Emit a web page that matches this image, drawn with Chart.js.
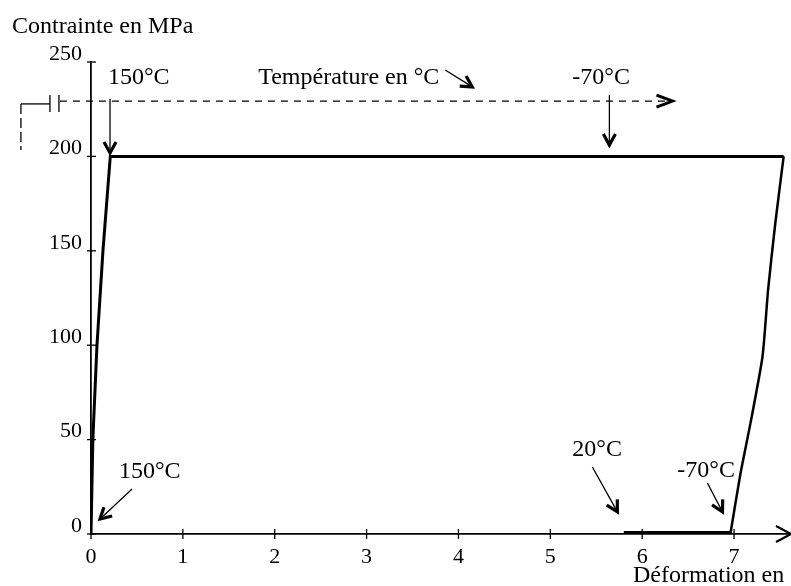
<!DOCTYPE html>
<html>
<head>
<meta charset="utf-8">
<script src="https://cdn.jsdelivr.net/npm/chart.js@4"></script>
<style>
  html, body { margin: 0; padding: 0; background: #fff; }
  #wrap { width: 791px; height: 586px; }
</style>
</head>
<body>
<div id="wrap"><canvas id="c" width="791" height="586"></canvas></div>
<script>
// Courbe contrainte / déformation
const deformation = [0, 0.02, 0.065, 0.13, 0.21, 7.54, 7.45, 7.37, 7.31, 7.18, 7.07, 6.96];
const contrainte  = [0, 50, 100, 150, 200, 200, 165, 129, 94, 59, 32, 0];
const iDecharge = 5; // début de la décharge (branche de droite)

// retour à contrainte nulle (trait épais)
const deformationRetour = [6.96, 5.8];
const contrainteRetour  = [0, 0];

const yTicks = [0, 50, 100, 150, 200, 250];
const xTicks = [0, 1, 2, 3, 4, 5, 6, 7];

// annotations, en unités du graphique
const textes = [
  { t: 'Contrainte en MPa', x: -0.86, y: 268.5 },
  { t: '150°C', x: 0.185, y: 241.5 },
  { t: 'Température en °C', x: 1.82, y: 241.5 },
  { t: '-70°C', x: 5.24, y: 241.5 },
  { t: '150°C', x: 0.305, y: 32.8 },
  { t: '20°C', x: 5.24, y: 44.5 },
  { t: '-70°C', x: 6.383, y: 33.4 },
  { t: 'Déformation en', x: 5.9, y: -22 }
];
const fleches = [
  { x1: 0.207, y1: 230.4, x2: 0.207, y2: 201.8 },
  { x1: 5.643, y1: 232.5, x2: 5.643, y2: 206 },
  { x1: 3.856, y1: 245.8, x2: 4.15, y2: 236.8 },
  { x1: 0.447, y1: 23.8, x2: 0.098, y2: 7.9 },
  { x1: 5.458, y1: 35.5, x2: 5.73, y2: 11.7 },
  { x1: 6.71, y1: 27, x2: 6.874, y2: 11.7 }
];
const temperatureAxe = { x1: -0.338, x2: 6.33, y: 229.3 };

const police = '"Liberation Serif", "Times New Roman", serif';

function pointe(ctx, x1, y1, x2, y2, len, half) {
  const a = Math.atan2(y2 - y1, x2 - x1);
  const cos = Math.cos(a), sin = Math.sin(a);
  ctx.beginPath();
  ctx.moveTo(x2 - len * cos - half * sin, y2 - len * sin + half * cos);
  ctx.lineTo(x2, y2);
  ctx.lineTo(x2 - len * cos + half * sin, y2 - len * sin - half * cos);
  ctx.stroke();
}

const decorPlugin = {
  id: 'decor',
  afterDraw(chart) {
    const ctx = chart.ctx;
    const sx = chart.scales.x, sy = chart.scales.y;
    const X = v => sx.getPixelForValue(v);
    const Y = v => sy.getPixelForValue(v);
    const x0 = X(0), y0 = Y(0);
    ctx.save();
    ctx.strokeStyle = '#000';
    ctx.fillStyle = '#000';

    // petites graduations qui traversent les axes
    ctx.lineWidth = 1.3;
    yTicks.forEach(v => {
      ctx.beginPath(); ctx.moveTo(x0 - 4, Y(v)); ctx.lineTo(x0 + 5, Y(v)); ctx.stroke();
    });
    xTicks.forEach(v => {
      ctx.beginPath(); ctx.moveTo(X(v), y0 - 5); ctx.lineTo(X(v), y0 + 5); ctx.stroke();
    });
    // flèche de l'axe des déformations
    ctx.lineWidth = 2;
    pointe(ctx, x0, y0, sx.right, y0, 15, 8);

    // axe des températures (tirets)
    ctx.lineWidth = 1.3;
    ctx.setLineDash([7, 6]);
    const ty = Y(temperatureAxe.y);
    ctx.beginPath(); ctx.moveTo(X(temperatureAxe.x1), ty); ctx.lineTo(X(temperatureAxe.x2), ty); ctx.stroke();
    ctx.setLineDash([]);
    ctx.lineWidth = 3;
    pointe(ctx, X(temperatureAxe.x1), ty, X(temperatureAxe.x2), ty, 16, 6);
    // symbole à gauche de l'axe
    ctx.lineWidth = 1.3;
    const bx = X(-0.763), by = Y(227.8);
    ctx.beginPath(); ctx.moveTo(bx, by); ctx.lineTo(X(-0.447), by); ctx.stroke();
    ctx.setLineDash([10, 4]);
    ctx.beginPath(); ctx.moveTo(bx, by); ctx.lineTo(bx, Y(203.4)); ctx.stroke();
    ctx.setLineDash([]);
    [-0.447, -0.349].forEach(v => {
      ctx.beginPath(); ctx.moveTo(X(v), Y(232.5)); ctx.lineTo(X(v), Y(223.5)); ctx.stroke();
    });

    // flèches d'annotation
    fleches.forEach(f => {
      const a1 = X(f.x1), b1 = Y(f.y1), a2 = X(f.x2), b2 = Y(f.y2);
      ctx.lineWidth = 1.3;
      ctx.beginPath(); ctx.moveTo(a1, b1); ctx.lineTo(a2, b2); ctx.stroke();
      ctx.lineWidth = 3.2;
      pointe(ctx, a1, b1, a2, b2, 11, 6);
    });

    // textes
    ctx.font = '24px ' + police;
    ctx.textAlign = 'left';
    ctx.textBaseline = 'middle';
    textes.forEach(t => ctx.fillText(t.t, X(t.x), Y(t.y)));
    ctx.restore();
  }
};

const courbe = (xs, ys) => xs.map((x, i) => ({ x: x, y: ys[i] }));
const trait = { showLine: true, borderColor: '#000', pointRadius: 0 };

new Chart(document.getElementById('c'), {
  type: 'scatter',
  data: {
    datasets: [
      Object.assign({
        data: courbe(deformation.slice(0, iDecharge + 1), contrainte.slice(0, iDecharge + 1)),
        borderWidth: 3, tension: 0
      }, trait),
      Object.assign({
        data: courbe(deformation.slice(iDecharge), contrainte.slice(iDecharge)),
        borderWidth: 2.5, tension: 0.2
      }, trait),
      Object.assign({
        data: courbe(deformationRetour, contrainteRetour),
        borderWidth: 6, borderCapStyle: 'butt'
      }, trait)
    ]
  },
  options: {
    responsive: false,
    animation: false,
    layout: { padding: { top: 62, right: 0, left: 0, bottom: 0 } },
    plugins: { legend: { display: false }, tooltip: { enabled: false } },
    scales: {
      x: {
        type: 'linear',
        min: 0,
        max: 7.62,
        afterFit: s => { s.height = 52; },
        grid: { display: false, drawTicks: false },
        border: { display: true, color: '#000', width: 1.8 },
        ticks: {
          stepSize: 1,
          includeBounds: false,
          padding: 10,
          color: '#000',
          font: { family: police, size: 22 }
        }
      },
      y: {
        type: 'linear',
        min: 0,
        max: 250,
        afterFit: s => { s.width = 91; },
        grid: { display: false, drawTicks: false },
        border: { display: true, color: '#000', width: 1.8 },
        ticks: {
          stepSize: 50,
          padding: 9,
          labelOffset: -8,
          color: '#000',
          font: { family: police, size: 22 }
        }
      }
    }
  },
  plugins: [decorPlugin]
});
</script>
</body>
</html>
